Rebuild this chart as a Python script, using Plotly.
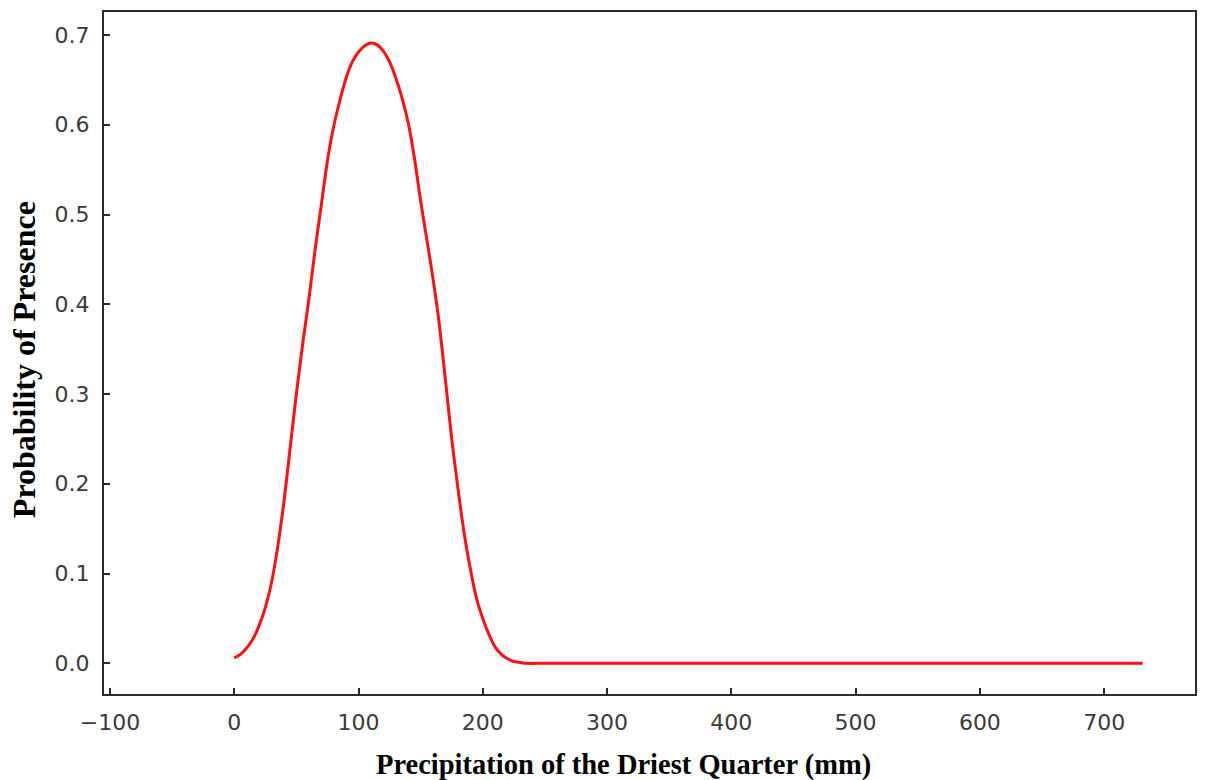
import plotly.graph_objects as go

precip_mm = [0, 5, 10, 15, 20, 25, 30, 35, 40, 45, 50, 55, 60, 65, 70, 75, 80, 85, 90, 95,
             100, 105, 110, 115, 120, 125, 130, 135, 140, 145, 150, 155, 160, 165, 170, 175,
             180, 185, 190, 195, 200, 205, 210, 215, 220, 225, 230, 235, 250, 300, 350, 400,
             450, 500, 550, 600, 650, 700, 731]
probability = [0.006, 0.010, 0.017, 0.027, 0.042, 0.062, 0.090, 0.130, 0.180, 0.240, 0.300,
               0.355, 0.405, 0.460, 0.510, 0.560, 0.598, 0.627, 0.652, 0.670, 0.681, 0.688,
               0.691, 0.689, 0.682, 0.670, 0.652, 0.630, 0.602, 0.563, 0.515, 0.472, 0.428,
               0.378, 0.315, 0.250, 0.195, 0.145, 0.105, 0.072, 0.050, 0.032, 0.018, 0.010,
               0.005, 0.002, 0.001, 0.0, 0.0, 0.0, 0.0, 0.0, 0.0, 0.0, 0.0, 0.0, 0.0, 0.0, 0.0]

x_ticks = [-100, 0, 100, 200, 300, 400, 500, 600, 700]
y_ticks = [0.0, 0.1, 0.2, 0.3, 0.4, 0.5, 0.6, 0.7]

fig = go.Figure()
fig.add_trace(go.Scatter(x=precip_mm, y=probability, mode="lines",
                         line=dict(color="#ff1010", width=3, shape="spline", smoothing=0.7),
                         showlegend=False))

axis_common = dict(showline=True, mirror=True, linecolor="#2a2a2a", linewidth=2,
                   ticks="inside", ticklen=6, tickwidth=2, tickcolor="#2a2a2a",
                   showgrid=False, zeroline=False,
                   tickfont=dict(family="DejaVu Sans", size=22, color="#3a3a3a"))

fig.update_xaxes(range=[-104.8, 773.1], tickvals=x_ticks,
                 ticktext=[str(v).replace("-", "\u2212") for v in x_ticks],
                 ticklabelstandoff=8, **axis_common)
fig.update_yaxes(range=[-0.0342, 0.7256], tickvals=y_ticks,
                 ticktext=[f"{v:.1f}" for v in y_ticks],
                 ticklabelstandoff=8, **axis_common)

fig.add_annotation(text="<b>Precipitation of the Driest Quarter (mm)</b>", xref="paper", yref="paper",
                   x=(624 - 104) / 1093, y=-(765 - 694) / 682, xanchor="center", yanchor="middle",
                   showarrow=False,
                   font=dict(family="Liberation Serif", size=28.5, color="#000000"))
fig.add_annotation(text="<b>Probability of Presence</b>", xref="paper", yref="paper",
                   x=-(104 - 24) / 1093, y=(694 - 360) / 682, xanchor="center", yanchor="middle",
                   showarrow=False, textangle=-90,
                   font=dict(family="Liberation Serif", size=32, color="#000000"))

fig.update_layout(width=1205, height=780, margin=dict(l=104, r=8, t=12, b=86),
                  plot_bgcolor="white", paper_bgcolor="white")

fig.write_html("out.html", config={"displayModeBar": False},
               post_script="document.body.style.margin='0';")
